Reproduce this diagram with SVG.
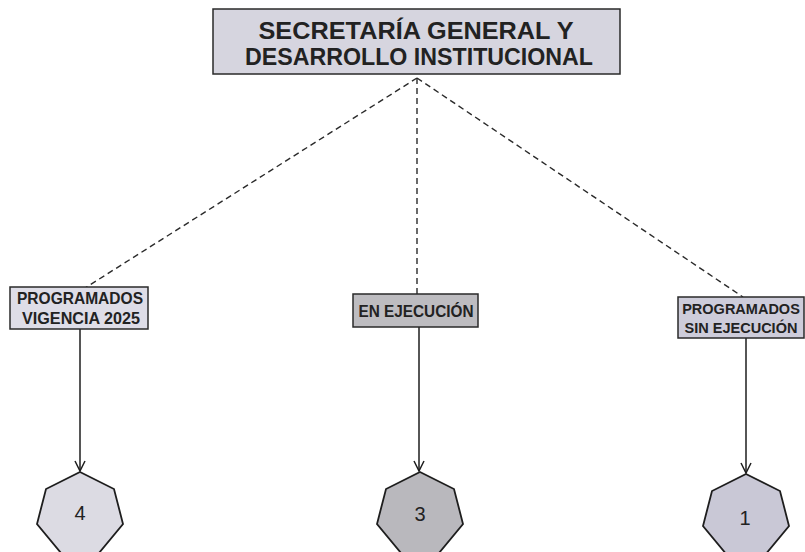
<svg xmlns="http://www.w3.org/2000/svg" width="805" height="552" viewBox="0 0 805 552">
<defs>
<style>
.box{stroke:#2a2a2a;stroke-width:1.5}
.t{font-family:"Liberation Sans",Arial,sans-serif;font-weight:bold;fill:#222;text-anchor:middle}
.dash{fill:none;stroke:#2a2a2a;stroke-width:1.4;stroke-dasharray:6 4}
.arr{fill:none;stroke:#1e1e1e;stroke-width:1.5}
.hep{stroke:#1e1e1e;stroke-width:1.8}
.n{font-family:"Liberation Sans",Arial,sans-serif;font-size:20px;fill:#222;text-anchor:middle}
</style>
<marker id="ah" viewBox="0 0 12 12" refX="11" refY="6" markerWidth="12" markerHeight="12" markerUnits="userSpaceOnUse" orient="auto">
<path d="M1,1 L11,6 L1,11" fill="none" stroke="#1e1e1e" stroke-width="1.5"/>
</marker>
</defs>
<rect width="805" height="552" fill="#fff"/>
<g id="connectors">
<path class="dash" d="M417,78 L85,288"/>
<path class="dash" d="M417,78 L417,294"/>
<path class="dash" d="M417,78 L743,297"/>
<path class="arr" d="M80,329 L80,471" marker-end="url(#ah)"/>
<path class="arr" d="M419,327 L419,471" marker-end="url(#ah)"/>
<path class="arr" d="M746,338 L746,473" marker-end="url(#ah)"/>
</g>
<g id="top">
<rect class="box" x="213" y="9" width="407" height="65" fill="#d6d5df"/>
<text class="t" x="416" y="39" font-size="24" textLength="315" lengthAdjust="spacingAndGlyphs">SECRETARÍA GENERAL Y</text>
<text class="t" x="419" y="65" font-size="24" textLength="348" lengthAdjust="spacingAndGlyphs">DESARROLLO INSTITUCIONAL</text>
</g>
<g id="programados-vigencia">
<rect class="box" x="10" y="287" width="138" height="42" fill="#dedde7"/>
<text class="t" x="80" y="304" font-size="16.5" textLength="126" lengthAdjust="spacingAndGlyphs">PROGRAMADOS</text>
<text class="t" x="81" y="324" font-size="16.5" textLength="118" lengthAdjust="spacingAndGlyphs">VIGENCIA 2025</text>
</g>
<g id="en-ejecucion">
<rect class="box" x="353" y="294" width="125" height="33" fill="#bdbcc0"/>
<text class="t" x="416" y="317" font-size="16.5" textLength="115" lengthAdjust="spacingAndGlyphs">EN EJECUCIÓN</text>
</g>
<g id="programados-sin">
<rect class="box" x="678" y="297" width="126" height="41" fill="#cdccda"/>
<text class="t" x="741" y="314" font-size="14.5">PROGRAMADOS</text>
<text class="t" x="741" y="333" font-size="14.5">SIN EJECUCIÓN</text>
</g>
<g id="hep-4">
<polygon class="hep" fill="#dcdbe3" points="80,472 114,489 123,524 99,553 61,553 37,524 46,489"/>
<text class="n" x="80" y="520">4</text>
</g>
<g id="hep-3">
<polygon class="hep" fill="#b9b8bd" points="420,472 454,489 463,524 439,553 401,553 377,524 386,489"/>
<text class="n" x="420" y="521">3</text>
</g>
<g id="hep-1">
<polygon class="hep" fill="#c9c8d6" points="746,474 780,491 789,526 765,555 727,555 703,526 712,491"/>
<text class="n" x="745" y="525">1</text>
</g>
</svg>
